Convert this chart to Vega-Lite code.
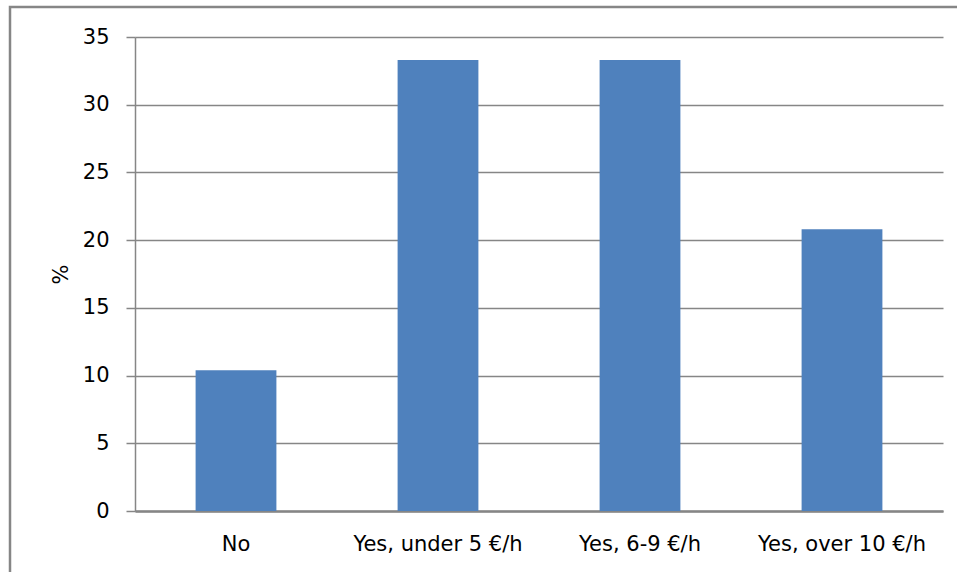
{
  "$schema": "https://vega.github.io/schema/vega-lite/v6.json",
  "autosize": "none",
  "width": 951,
  "height": 569,
  "padding": {"left": 10, "top": 7, "right": -4, "bottom": -4},
  "background": "white",
  "config": {
    "font": "DejaVu Sans",
    "view": {"stroke": "#868686", "strokeWidth": 2.5, "fill": "white"}
  },
  "data": {
    "values": [
      {"answer": "No", "percent": 10.4},
      {"answer": "Yes, under 5 €/h", "percent": 33.3},
      {"answer": "Yes, 6-9 €/h", "percent": 33.3},
      {"answer": "Yes, over 10 €/h", "percent": 20.8}
    ]
  },
  "mark": {"type": "bar", "color": "#4F81BD"},
  "encoding": {
    "x": {
      "field": "answer",
      "type": "nominal",
      "sort": null,
      "scale": {"range": [125, 933], "paddingInner": 0.6, "paddingOuter": 0.3},
      "axis": {
        "title": null,
        "offset": -65,
        "labelAngle": 0,
        "labelFontSize": 21,
        "labelColor": "#000000",
        "labelPadding": 22,
        "ticks": false,
        "domainColor": "#868686",
        "domainWidth": 2.5,
        "labelFont": "DejaVu Sans"
      }
    },
    "y": {
      "field": "percent",
      "type": "quantitative",
      "scale": {"domain": [0, 35], "range": [504, 30], "nice": false},
      "axis": {
        "title": "%",
        "offset": -125,
        "values": [0, 5, 10, 15, 20, 25, 30, 35],
        "labelFontSize": 21,
        "labelColor": "#000000",
        "labelPadding": 17,
        "labelFont": "DejaVu Sans",
        "tickSize": 9,
        "tickColor": "#868686",
        "tickWidth": 1.5,
        "domainColor": "#868686",
        "domainWidth": 1.5,
        "gridColor": "#868686",
        "gridWidth": 1.5,
        "gridOpacity": 1,
        "titleFontSize": 21,
        "titleFontWeight": "normal",
        "titleColor": "#000000",
        "titleFont": "DejaVu Sans",
        "titlePadding": 11
      }
    }
  }
}
